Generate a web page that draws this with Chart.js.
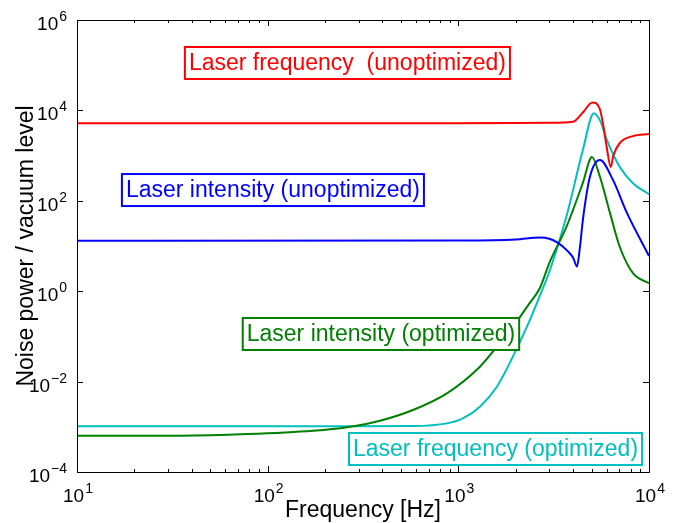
<!DOCTYPE html>
<html>
<head>
<meta charset="utf-8">
<script src="https://cdn.jsdelivr.net/npm/chart.js@4.4.1/dist/chart.umd.min.js"></script>
<style>
  html, body { margin: 0; padding: 0; background: #fff; }
  #wrap { width: 683px; height: 523px; }
</style>
</head>
<body>
<div id="wrap"><canvas id="noiseChart" width="683" height="523"></canvas></div>
<script>
// Noise spectra (Hz vs. noise power / vacuum level)
const redFreq = [10, 1000, 3000, 4000, 4500, 5050, 5500, 5730, 6000, 6300, 6500, 7030, 8240, 10000];
const redNoise = [5200, 5200, 5300, 5600, 9000, 15000, 11200, 5300, 1550, 560, 1000, 1900, 2700, 3000];

const blueFreq = [10, 1000, 2000, 2700, 3000, 3300, 3700, 4000, 4190, 4350, 4500, 4900, 5530, 6470, 7660, 10000];
const blueNoise = [13, 13.3, 14, 15.5, 14.5, 12, 8.1, 5.5, 3.5, 10, 38, 340, 800, 290, 54, 6];

const greenFreq = [10, 35, 78, 173, 261, 388, 578, 871, 1298, 1593, 1932, 2371, 2677, 3021, 3709, 4500, 5020, 5530, 6240, 7030, 8240, 10000];
const greenNoise = [6.3e-4, 6.35e-4, 6.9e-4, 8.2e-4, 9.8e-4, 1.36e-3, 2.35e-3, 5.5e-3, 0.0214, 0.059, 0.164, 0.55, 1.18, 4.5, 28, 250, 930, 340, 54, 9.5, 2.5, 1.5];

const cyanFreq = [10, 300, 578, 871, 1056, 1298, 1593, 1932, 2371, 2780, 3021, 3709, 4500, 5140, 5530, 6010, 7030, 8240, 10000];
const cyanNoise = [1.03e-3, 1.03e-3, 1.04e-3, 1.19e-3, 1.54e-3, 2.79e-3, 7.7e-3, 0.0356, 0.23, 1.18, 2.9, 49, 1330, 8700, 6000, 2240, 560, 245, 140];

// Axis ticks
const xMajor = [10, 100, 1000, 10000];
const yMajor = [1e-4, 1e-2, 1, 1e2, 1e4, 1e6];

// Text boxes: label, colour, anchor (left edge in Hz, centre in noise units)
const boxLabels = ["Laser frequency  (unoptimized)", "Laser intensity (unoptimized)", "Laser intensity (optimized)", "Laser frequency (optimized)"];
const boxColors = ["#ff0000", "#0000ff", "#008000", "#00bfbf"];
const boxFreq = [36.8, 17.2, 74, 267];
const boxNoise = [1.12e5, 173, 0.113, 3.23e-4];

const FONT = "'Liberation Sans', Arial, Helvetica, sans-serif";

function toPoints(xs, ys) {
  return xs.map((x, i) => ({ x: x, y: ys[i] }));
}

function makeSet(label, xs, ys, color) {
  return {
    label: label,
    data: toPoints(xs, ys),
    borderColor: color,
    borderWidth: 2,
    pointRadius: 0,
    fill: false,
    cubicInterpolationMode: "monotone",
  };
}

function supLabel(ctx, exp, x, y, align) {
  // draws "10" with a raised exponent; align = "center" or "right"
  ctx.font = "19px " + FONT;
  const base = "10";
  const wBase = ctx.measureText(base).width;
  ctx.font = "14px " + FONT;
  const sup = String(exp).replace("-", "\u2212");
  const wSup = ctx.measureText(sup).width;
  const total = wBase + 1 + wSup;
  let left = align === "right" ? x - total : x - total / 2;
  ctx.textAlign = "left";
  ctx.textBaseline = "alphabetic";
  ctx.font = "19px " + FONT;
  ctx.fillText(base, left, y);
  ctx.font = "14px " + FONT;
  ctx.fillText(sup, left + wBase + 1, y - 9);
}

const axesPlugin = {
  id: "matlabAxes",
  afterDatasetsDraw(chart) {
    const ctx = chart.ctx;
    const xs = chart.scales.x;
    const ys = chart.scales.y;

    // annotation boxes
    ctx.save();
    ctx.font = "23px " + FONT;
    boxLabels.forEach((txt, i) => {
      const left = xs.getPixelForValue(boxFreq[i]);
      const mid = ys.getPixelForValue(boxNoise[i]);
      const w = ctx.measureText(txt).width + 8;
      const h = 32;
      ctx.fillStyle = "#fff";
      ctx.fillRect(left, mid - h / 2, w, h);
      ctx.strokeStyle = boxColors[i];
      ctx.lineWidth = 2;
      ctx.strokeRect(left, mid - h / 2, w, h);
      ctx.fillStyle = boxColors[i];
      ctx.textAlign = "left";
      ctx.textBaseline = "middle";
      ctx.fillText(txt, left + 4, mid + 1);
    });
    ctx.restore();
  },
  afterDraw(chart) {
    const ctx = chart.ctx;
    const area = chart.chartArea;
    const xs = chart.scales.x;
    const ys = chart.scales.y;
    ctx.save();
    ctx.strokeStyle = "#000";
    ctx.lineWidth = 1;

    // frame
    ctx.strokeRect(Math.round(area.left) + 0.5, Math.round(area.top) + 0.5,
      Math.round(area.right - area.left), Math.round(area.bottom - area.top));

    // x ticks, major + minor, top and bottom, pointing inwards
    ctx.beginPath();
    for (let d = 0; d < xMajor.length; d++) {
      const dec = xMajor[d];
      for (let m = 1; m <= 9; m++) {
        const v = dec * m;
        if (v > 10000) break;
        const px = Math.round(xs.getPixelForValue(v)) + 0.5;
        const len = m === 1 ? 6 : 3;
        ctx.moveTo(px, area.bottom);
        ctx.lineTo(px, area.bottom - len);
        ctx.moveTo(px, area.top);
        ctx.lineTo(px, area.top + len);
      }
    }
    // y ticks, left and right
    yMajor.forEach((v) => {
      const py = Math.round(ys.getPixelForValue(v)) + 0.5;
      ctx.moveTo(area.left, py);
      ctx.lineTo(area.left + 6, py);
      ctx.moveTo(area.right, py);
      ctx.lineTo(area.right - 6, py);
    });
    ctx.stroke();

    // tick labels
    ctx.fillStyle = "#000";
    xMajor.forEach((v) => {
      const px = xs.getPixelForValue(v);
      supLabel(ctx, Math.round(Math.log10(v)), px + 1, area.bottom + 30, "center");
    });
    yMajor.forEach((v) => {
      const py = ys.getPixelForValue(v);
      supLabel(ctx, Math.round(Math.log10(v)), area.left - 10, py + 10, "right");
    });

    // axis titles
    ctx.font = "23px " + FONT;
    ctx.textAlign = "center";
    ctx.textBaseline = "alphabetic";
    ctx.fillText("Frequency [Hz]", (area.left + area.right) / 2, 517);
    ctx.translate(33, (area.top + area.bottom) / 2);
    ctx.rotate(-Math.PI / 2);
    ctx.fillText("Noise power / vacuum level", 0, 0);
    ctx.restore();
  },
};

document.addEventListener("DOMContentLoaded", function () {
  const ctx = document.getElementById("noiseChart").getContext("2d");
  new Chart(ctx, {
    type: "line",
    data: {
      datasets: [
        makeSet("Laser frequency (unoptimized)", redFreq, redNoise, "#ff0000"),
        makeSet("Laser intensity (unoptimized)", blueFreq, blueNoise, "#0000ff"),
        makeSet("Laser intensity (optimized)", greenFreq, greenNoise, "#008000"),
        makeSet("Laser frequency (optimized)", cyanFreq, cyanNoise, "#00bfbf"),
      ],
    },
    options: {
      responsive: false,
      animation: false,
      devicePixelRatio: 1,
      layout: {
        padding: { left: 77, right: 34, top: 20, bottom: 51 },
      },
      plugins: {
        legend: { display: false },
        tooltip: { enabled: false },
      },
      scales: {
        x: { type: "logarithmic", min: 10, max: 10000, display: false },
        y: { type: "logarithmic", min: 1e-4, max: 1e6, display: false },
      },
    },
    plugins: [axesPlugin],
  });
});
</script>
</body>
</html>
